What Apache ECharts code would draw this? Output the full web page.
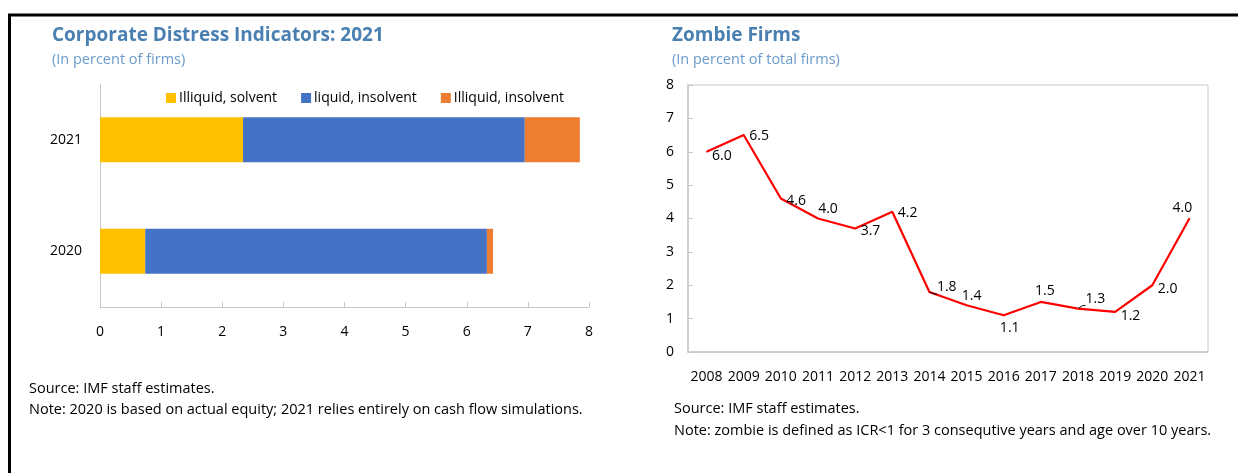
<!DOCTYPE html>
<html>
<head>
<meta charset="utf-8">
<script src="https://cdn.jsdelivr.net/npm/echarts@6/dist/echarts.min.js"></script>
<style>
  html, body { margin: 0; padding: 0; background: #fff; }
  #main { width: 1238px; height: 473px; }
</style>
</head>
<body>
<div id="main"></div>
<script>
// left panel: corporate distress (percent of firms)
var distressYears = ['2020', '2021'];
var illiquidSolvent = [0.74, 2.34];
var liquidInsolvent = [5.59, 4.61];
var illiquidInsolvent = [0.10, 0.90];

// right panel: zombie firms (percent of total firms)
var zombieYears = ['2008', '2009', '2010', '2011', '2012', '2013', '2014',
  '2015', '2016', '2017', '2018', '2019', '2020', '2021'];
var zombieShare = [6.0, 6.5, 4.6, 4.0, 3.7, 4.2, 1.8, 1.4, 1.1, 1.5, 1.3, 1.2, 2.0, 4.0];

var FONT = 'Open Sans';
var AXIS_GREY = '#c8c8c8';

// where each zombie label sits around its point (third flag: draw a leader)
var labelPlace = [
  ['right', [0, 4]], ['right', [0, 1]], ['right', [0, 3]], ['top', [10, 3]],
  ['right', [0, 3]], ['right', [0, 1]], ['right', [2, -5], true], ['top', [5, 3]],
  ['bottom', [6, 0]], ['top', [4, 2]], ['right', [2, -10], true], ['right', [0, 4]],
  ['right', [0, 4]], ['top', [-7, 2]]
];
var zombieData = zombieShare.map(function (v, i) {
  var item = {
    value: v,
    label: { position: labelPlace[i][0], offset: labelPlace[i][1] }
  };
  if (labelPlace[i][2]) {
    item.labelLine = { show: true, length2: 3, lineStyle: { color: '#000', width: 1 } };
  }
  return item;
});

var chart = echarts.init(document.getElementById('main'));

chart.setOption({
  animation: false,
  textStyle: { fontFamily: FONT },
  title: [{
    text: 'Corporate Distress Indicators: 2021',
    subtext: '(In percent of firms)',
    left: 47, top: 21, itemGap: 7,
    textStyle: { color: '#4a7fb2', fontSize: 19, fontWeight: 'bold', fontFamily: FONT },
    subtextStyle: { color: '#6a9bcb', fontSize: 14.5, fontFamily: FONT }
  }, {
    text: 'Zombie Firms',
    subtext: '(In percent of total firms)',
    left: 667, top: 21, itemGap: 7,
    textStyle: { color: '#4a7fb2', fontSize: 19, fontWeight: 'bold', fontFamily: FONT },
    subtextStyle: { color: '#6a9bcb', fontSize: 14.5, fontFamily: FONT }
  }],
  legend: {
    left: 161, top: 86,
    itemWidth: 10, itemHeight: 10, itemGap: 24,
    icon: 'rect',
    textStyle: { fontSize: 14, color: '#000', fontFamily: FONT, padding: [0, 0, 0, -2] },
    data: ['Illiquid, solvent', 'liquid, insolvent', 'Illiquid, insolvent']
  },
  grid: [
    { left: 100, right: 649, top: 84, bottom: 166 },
    { left: 688, right: 30, top: 85, bottom: 121, show: true, borderColor: AXIS_GREY, borderWidth: 1 }
  ],
  xAxis: [{
    gridIndex: 0, type: 'value', min: 0, max: 8, interval: 1,
    axisLine: { show: true, lineStyle: { color: AXIS_GREY } },
    axisTick: { show: true, inside: true, length: 5, lineStyle: { color: AXIS_GREY } },
    splitLine: { show: false },
    axisLabel: { color: '#000', fontSize: 14, margin: 18 }
  }, {
    gridIndex: 1, type: 'category', data: zombieYears,
    axisLine: { lineStyle: { color: AXIS_GREY, width: 1.5 } },
    axisTick: { inside: true, length: 5, lineStyle: { color: AXIS_GREY } },
    axisLabel: { color: '#000', fontSize: 14, margin: 18, interval: 0 }
  }],
  yAxis: [{
    gridIndex: 0, type: 'category', data: distressYears,
    axisLine: { lineStyle: { color: AXIS_GREY } },
    axisTick: { inside: true, length: 4, lineStyle: { color: AXIS_GREY } },
    axisLabel: { color: '#000', fontSize: 14, margin: 18 }
  }, {
    gridIndex: 1, type: 'value', min: 0, max: 8, interval: 1,
    axisLine: { show: true, lineStyle: { color: AXIS_GREY, width: 1.5 } },
    axisTick: { show: true, inside: true, length: 5, lineStyle: { color: AXIS_GREY } },
    splitLine: { show: false },
    axisLabel: { color: '#000', fontSize: 14, margin: 14 }
  }],
  series: [{
    name: 'Illiquid, solvent', type: 'bar', stack: 'd', barWidth: 45,
    xAxisIndex: 0, yAxisIndex: 0,
    itemStyle: { color: '#ffc000' }, data: illiquidSolvent
  }, {
    name: 'liquid, insolvent', type: 'bar', stack: 'd', barWidth: 45,
    xAxisIndex: 0, yAxisIndex: 0,
    itemStyle: { color: '#4472c4' }, data: liquidInsolvent
  }, {
    name: 'Illiquid, insolvent', type: 'bar', stack: 'd', barWidth: 45,
    xAxisIndex: 0, yAxisIndex: 0,
    itemStyle: { color: '#ed7d31' }, data: illiquidInsolvent
  }, {
    name: 'Zombie firms', type: 'line',
    xAxisIndex: 1, yAxisIndex: 1,
    showSymbol: true, symbol: 'circle', symbolSize: 1,
    itemStyle: { color: '#ff0000' },
    lineStyle: { color: '#ff0000', width: 2.2 },
    label: {
      show: true, color: '#000', fontSize: 14, distance: 5,
      formatter: function (p) { return p.value.toFixed(1); }
    },
    data: zombieData
  }],
  graphic: [
    { type: 'line', shape: { x1: 8, y1: 15, x2: 1238, y2: 15 }, style: { stroke: '#000', lineWidth: 3 } },
    { type: 'line', shape: { x1: 9.5, y1: 15, x2: 9.5, y2: 473 }, style: { stroke: '#000', lineWidth: 3 } },
    { type: 'text', left: 29, top: 381, style: { text: 'Source: IMF staff estimates.', fontSize: 14.5, fontFamily: FONT, fill: '#000' } },
    { type: 'text', left: 29, top: 402, style: { text: 'Note: 2020 is based on actual equity; 2021 relies entirely on cash flow simulations.', fontSize: 14.5, fontFamily: FONT, fill: '#000' } },
    { type: 'text', left: 674, top: 401, style: { text: 'Source: IMF staff estimates.', fontSize: 14.5, fontFamily: FONT, fill: '#000' } },
    { type: 'text', left: 674, top: 423, style: { text: 'Note: zombie is defined as ICR<1 for 3 consequtive years and age over 10 years.', fontSize: 14.5, fontFamily: FONT, fill: '#000' } }
  ]
});
</script>
</body>
</html>
